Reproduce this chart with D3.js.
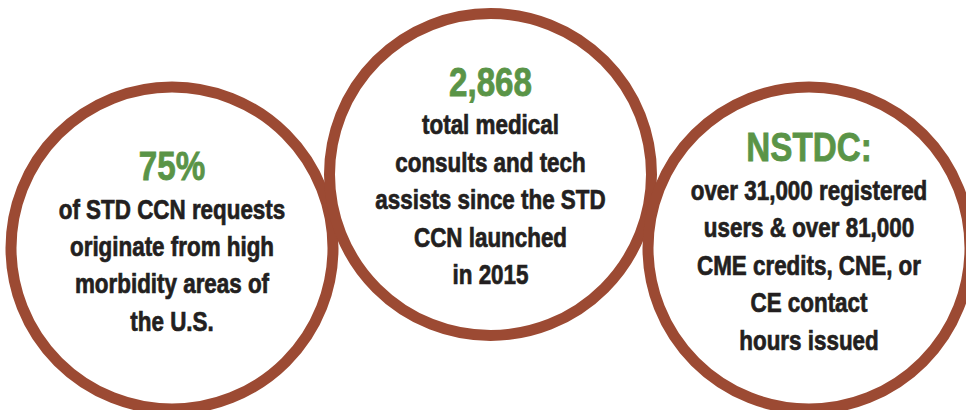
<!DOCTYPE html>
<html>
<head>
<meta charset="utf-8">
<script src="https://cdn.jsdelivr.net/npm/d3@7"></script>
<style>
  html, body { margin: 0; padding: 0; background: #fff; }
  svg { display: block; }
</style>
</head>
<body>
<div class="js-stat-circles"></div>
<script>
// stat keys, headline figures and their caption lines
const statKeys = ["requests", "consults", "nstdc"];
const headlines = ["75%", "2,868", "NSTDC:"];
const captions = [
  ["of STD CCN requests", "originate from high", "morbidity areas of", "the U.S."],
  ["total medical", "consults and tech", "assists since the STD", "CCN launched", "in 2015"],
  ["over 31,000 registered", "users & over 81,000", "CME credits, CNE, or", "CE contact", "hours issued"]
];

function statCirclesInit() {
  const width = 966;
  const height = 410;
  const ringColor = "#9c4a33";
  const figureColor = "#5a9447";
  const textColor = "#231f20";
  // no narrow face installed, so squeeze Liberation Sans horizontally
  const fontFamily = "'Liberation Sans', Arial, sans-serif";
  const squeeze = "scale(0.83,1)";
  const radius = 161;
  const lineHeight = 37.5;

  const x = d3.scalePoint().domain(statKeys).range([172, 809]);
  // middle circle sits higher than the outer two
  const y = function(i) {
    return i === 1 ? 174.5 : 248;
  };

  const data = statKeys.map(function(k, i) {
    return { key: k, headline: headlines[i], lines: captions[i], i: i };
  });

  const svg = d3
    .select(".js-stat-circles")
    .append("svg")
    .attr("width", width)
    .attr("height", height)
    .attr("viewBox", `0 0 ${width} ${height}`);

  const node = svg
    .selectAll(".stat")
    .data(data)
    .enter()
    .append("g")
    .attr("class", "stat")
    .attr("transform", function(d) {
      return "translate(" + x(d.key) + "," + y(d.i) + ")";
    });

  node
    .append("circle")
    .attr("r", radius)
    .attr("fill", "none")
    .attr("stroke", ringColor)
    .attr("stroke-width", 11);

  // headline baseline, block roughly centred in the ring
  const top = function(d) {
    return (d.i === 1 ? 16 : 8) - (d.lines.length * lineHeight) / 2;
  };

  node
    .append("text")
    .attr("text-anchor", "middle")
    .attr("transform", squeeze)
    .attr("y", function(d) {
      return top(d) - 1;
    })
    .attr("font-family", fontFamily)
    .attr("font-weight", "bold")
    .attr("font-size", 40)
    .attr("fill", figureColor)
    .attr("stroke", figureColor)
    .attr("stroke-width", 0.8)
    .text(function(d) {
      return d.headline;
    });

  node
    .append("text")
    .attr("text-anchor", "middle")
    .attr("transform", squeeze)
    .attr("font-family", fontFamily)
    .attr("font-weight", "bold")
    .attr("font-size", 27)
    .attr("fill", textColor)
    .attr("stroke", textColor)
    .attr("stroke-width", 0.7)
    .selectAll("tspan")
    .data(function(d) {
      return d.lines.map(function(l, j) {
        return { text: l, y: top(d) + (j + 1) * lineHeight };
      });
    })
    .enter()
    .append("tspan")
    .attr("x", 0)
    .attr("y", function(t) {
      return t.y;
    })
    .text(function(t) {
      return t.text;
    });
}

statCirclesInit();
</script>
</body>
</html>
